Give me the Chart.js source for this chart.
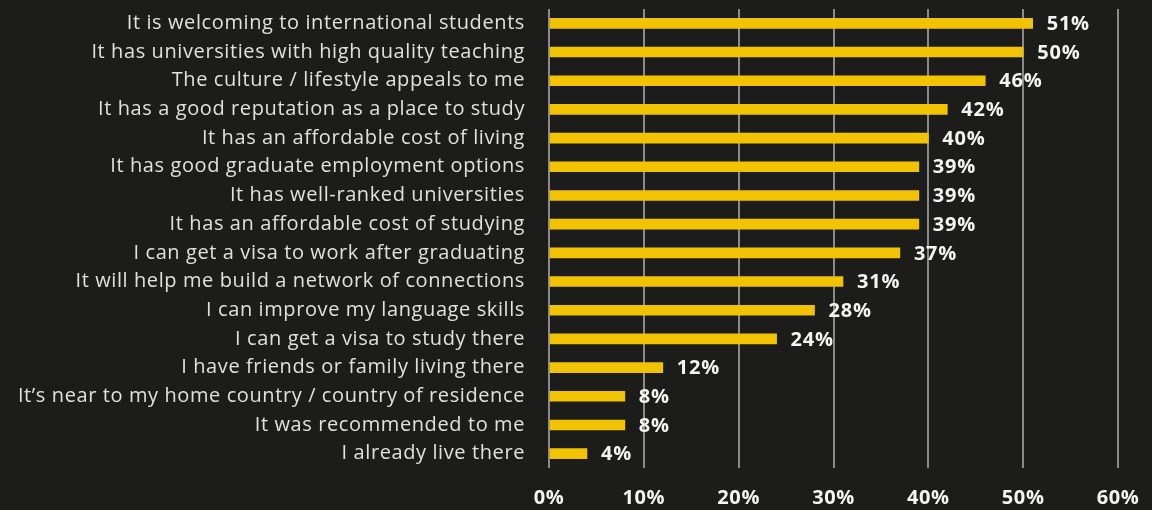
<!DOCTYPE html>
<html>
<head>
<meta charset="utf-8">
<script src="https://cdn.jsdelivr.net/npm/chart.js@4/dist/chart.umd.min.js"></script>
<style>
  html, body { margin: 0; padding: 0; background: #1c1c1a; }
  #chartDisplay { width: 1152px; height: 510px; }
</style>
</head>
<body>
<div id="chartDisplay"><canvas id="myChart"></canvas></div>
<script>
let reasons = [
  "It is welcoming to international students",
  "It has universities with high quality teaching",
  "The culture / lifestyle appeals to me",
  "It has a good reputation as a place to study",
  "It has an affordable cost of living",
  "It has good graduate employment options",
  "It has well-ranked universities",
  "It has an affordable cost of studying",
  "I can get a visa to work after graduating",
  "It will help me build a network of connections",
  "I can improve my language skills",
  "I can get a visa to study there",
  "I have friends or family living there",
  "It\u2019s near to my home country / country of residence",
  "It was recommended to me",
  "I already live there"
];
let percents = [51, 50, 46, 42, 40, 39, 39, 39, 37, 31, 28, 24, 12, 8, 8, 4];
let axisTicks = [0, 10, 20, 30, 40, 50, 60];

const labelFont = "Open Sans";

// slightly looser text everywhere on the canvas
const spacing = {
  id: 'spacing',
  beforeDraw(chart) {
    chart.ctx.letterSpacing = '0.6px';
  }
};

// writes the percentage just past the end of each bar
const valueLabels = {
  id: 'valueLabels',
  afterDatasetsDraw(chart) {
    const ctx = chart.ctx;
    const meta = chart.getDatasetMeta(0);
    ctx.save();
    ctx.fillStyle = '#f4f4f2';
    ctx.font = 'bold 20px ' + labelFont;
    ctx.letterSpacing = '0.8px';
    ctx.textAlign = 'left';
    ctx.textBaseline = 'middle';
    meta.data.forEach((bar, i) => {
      ctx.fillText(percents[i] + '%', bar.x + 14, bar.y + 1);
    });
    ctx.restore();
  }
};

function reasonsChart() {
  const data = {
    labels: reasons,
    datasets: [{
      label: 'Reasons',
      backgroundColor: '#f2c300',
      borderWidth: 0,
      barThickness: 10,
      data: percents,
    }]
  };

  const config = {
    type: 'bar',
    data,
    options: {
      indexAxis: 'y',
      responsive: true,
      maintainAspectRatio: false,
      animation: false,
      layout: { padding: { top: 9, right: 34, left: 0, bottom: 0 } },
      plugins: {
        legend: { display: false },
        tooltip: { enabled: false }
      },
      scales: {
        x: {
          min: 0,
          max: 60,
          afterBuildTicks(scale) {
            scale.ticks = axisTicks.map(v => ({ value: v }));
          },
          afterFit(scale) {
            scale.height = 42;
            scale.paddingLeft = 0;
            scale.paddingRight = 0;
          },
          grid: { color: '#8a8a88', lineWidth: 2, drawTicks: false },
          border: { display: false },
          ticks: {
            color: '#f4f4f2',
            padding: 18,
            font: { family: labelFont, size: 20, weight: 'bold' },
            callback: v => v + '%'
          }
        },
        y: {
          afterFit(scale) {
            scale.width = 549;
            scale.paddingTop = 0;
            scale.paddingBottom = 0;
          },
          grid: { display: false, drawTicks: false },
          border: { display: false },
          ticks: {
            color: '#e0e0de',
            padding: 24,
            autoSkip: false,
            font: { family: labelFont, size: 20 }
          }
        }
      }
    },
    plugins: [spacing, valueLabels]
  };

  var myChart = new Chart(document.getElementById('myChart'), config);
}
reasonsChart();
</script>
</body>
</html>
